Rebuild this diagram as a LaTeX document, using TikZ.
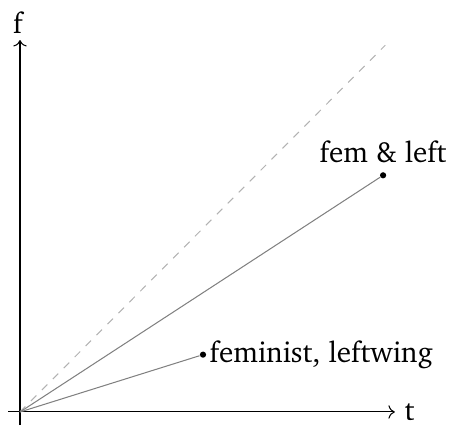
\documentclass[tikz,border=0pt]{standalone}
\usepackage[T1]{fontenc}
\usepackage{charter}
\usepackage{tikz}
\usetikzlibrary{arrows.meta,positioning}

\begin{document}
\begin{tikzpicture}[
  every node/.style={font=\fontsize{11.3}{13.5}\selectfont},
  ax/.style={->, black, thin},
  ln/.style={gray},
  pt/.style={circle, fill=black, inner sep=0pt, minimum size=2.4pt}
]
  \useasboundingbox (-0.272,-0.231) rectangle (5.864,5.605);

  \coordinate (o) at (0,0);
  \coordinate (xs) at (-0.16,0);
  \coordinate (ys) at (0,-0.18);
  \node[inner sep=0pt] (t) at (5.3,-0.01) {t};
  \node[inner sep=0pt] (f) at (-0.03,5.3) {f};
  \draw[ax] (xs) -- (5.1,0) coordinate (xe);
  \draw[ax] (ys) -- (0,5.06) coordinate (ye);

  \coordinate (d) at (4.97,4.99);
  \draw[ln, dashed, gray!60] (o) -- (d);

  \node[pt] (fl) at (4.94,3.22) {};
  \node[pt] (fe) at (2.49,0.78) {};
  \draw[ln] (o) -- (fl);
  \draw[ln] (o) -- (fe);
  \node[above=0pt of fl] {fem \& left};
  \node[right=0pt of fe, inner sep=1pt] {feminist, leftwing};
\end{tikzpicture}
\end{document}
